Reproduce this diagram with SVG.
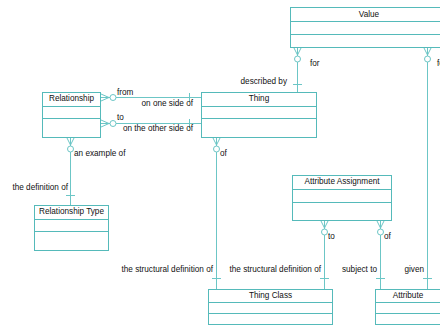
<svg xmlns="http://www.w3.org/2000/svg" width="440" height="326" viewBox="0 0 440 326">
<style>
.box{fill:#fff;stroke:#55baba;stroke-width:1}
.div{stroke:#55baba;stroke-width:1}
.t{font-family:"Liberation Sans",Arial,sans-serif;font-size:8.2px;fill:#111}
.c{text-anchor:middle}
.r{text-anchor:end}
.cn path,.cn line{fill:none;stroke:#6cc6c6;stroke-width:1}
.cn circle{fill:#fff;stroke:#6cc6c6;stroke-width:1}
</style>
<rect width="440" height="326" fill="#fff"/>
<g id="connectors" class="cn">
  <line x1="297.5" y1="47" x2="297.5" y2="92"/>
  <path d="M293.5 47 L297.5 55 L301.5 47 M297.5 47 L297.5 55"/>
  <circle cx="297.5" cy="59" r="3"/>
  <line x1="293" y1="84.5" x2="302" y2="84.5"/>
  <line x1="427.5" y1="47" x2="427.5" y2="289"/>
  <path d="M423.5 47 L427.5 55 L431.5 47 M427.5 47 L427.5 55"/>
  <circle cx="427.5" cy="59" r="3"/>
  <line x1="423" y1="278.5" x2="432" y2="278.5"/>
  <line x1="101" y1="97.5" x2="201" y2="97.5"/>
  <path d="M101 94 L109 97.5 L101 101 M101 97.5 L109 97.5"/>
  <circle cx="113" cy="97.5" r="3"/>
  <line x1="189.5" y1="93" x2="189.5" y2="102"/>
  <line x1="101" y1="123.5" x2="201" y2="123.5"/>
  <path d="M101 120 L109 123.5 L101 127 M101 123.5 L109 123.5"/>
  <circle cx="113" cy="123.5" r="3"/>
  <line x1="189.5" y1="119" x2="189.5" y2="128"/>
  <line x1="70.5" y1="137" x2="70.5" y2="205"/>
  <path d="M66.5 137 L70.5 145 L74.5 137 M70.5 137 L70.5 145"/>
  <circle cx="70.5" cy="149" r="3"/>
  <line x1="66" y1="195.5" x2="75" y2="195.5"/>
  <line x1="216.5" y1="137" x2="216.5" y2="289"/>
  <path d="M212.5 137 L216.5 145 L220.5 137 M216.5 137 L216.5 145"/>
  <circle cx="216.5" cy="149" r="3"/>
  <line x1="212" y1="278.5" x2="221" y2="278.5"/>
  <line x1="324.5" y1="220" x2="324.5" y2="289"/>
  <path d="M320.5 220 L324.5 228 L328.5 220 M324.5 220 L324.5 228"/>
  <circle cx="324.5" cy="232" r="3"/>
  <line x1="320" y1="278.5" x2="329" y2="278.5"/>
  <line x1="380.5" y1="220" x2="380.5" y2="289"/>
  <path d="M376.5 220 L380.5 228 L384.5 220 M380.5 220 L380.5 228"/>
  <circle cx="380.5" cy="232" r="3"/>
  <line x1="376" y1="278.5" x2="385" y2="278.5"/>
  <text class="t" x="310" y="66">for</text>
  <text class="t" x="437" y="66">for</text>
  <text class="t r" x="287" y="84">described by</text>
  <text class="t" x="117" y="95">from</text>
  <text class="t r" x="193" y="106">on one side of</text>
  <text class="t" x="117" y="120">to</text>
  <text class="t r" x="193" y="131">on the other side of</text>
  <text class="t" x="74" y="156">an example of</text>
  <text class="t r" x="68" y="190">the definition of</text>
  <text class="t" x="220" y="156">of</text>
  <text class="t r" x="213" y="272">the structural definition of</text>
  <text class="t r" x="321" y="272">the structural definition of</text>
  <text class="t" x="328" y="239">to</text>
  <text class="t" x="384" y="239">of</text>
  <text class="t r" x="377" y="272">subject to</text>
  <text class="t r" x="424" y="272">given</text>
</g>
<g id="value">
  <rect class="box" x="290.5" y="7.5" width="158" height="40"/>
  <line class="div" x1="290.5" y1="21.5" x2="448.5" y2="21.5"/>
  <line class="div" x1="290.5" y1="34.5" x2="448.5" y2="34.5"/>
  <text class="t c" x="369" y="17">Value</text>
</g>
<g id="thing">
  <rect class="box" x="201.5" y="92.5" width="115" height="45"/>
  <line class="div" x1="201.5" y1="106.5" x2="316.5" y2="106.5"/>
  <line class="div" x1="201.5" y1="118.5" x2="316.5" y2="118.5"/>
  <text class="t c" x="259" y="101">Thing</text>
</g>
<g id="relationship">
  <rect class="box" x="42.5" y="92.5" width="58" height="45"/>
  <line class="div" x1="42.5" y1="106.5" x2="100.5" y2="106.5"/>
  <line class="div" x1="42.5" y1="118.5" x2="100.5" y2="118.5"/>
  <text class="t c" x="71.5" y="101">Relationship</text>
</g>
<g id="relationship-type">
  <rect class="box" x="34.5" y="205.5" width="74" height="45"/>
  <line class="div" x1="34.5" y1="219.5" x2="108.5" y2="219.5"/>
  <line class="div" x1="34.5" y1="231.5" x2="108.5" y2="231.5"/>
  <text class="t c" x="71.5" y="214">Relationship Type</text>
</g>
<g id="attribute-assignment">
  <rect class="box" x="292.5" y="175.5" width="99" height="45"/>
  <line class="div" x1="292.5" y1="189.5" x2="391.5" y2="189.5"/>
  <line class="div" x1="292.5" y1="202.5" x2="391.5" y2="202.5"/>
  <text class="t c" x="342" y="184">Attribute Assignment</text>
</g>
<g id="thing-class">
  <rect class="box" x="208.5" y="289.5" width="124" height="35"/>
  <line class="div" x1="208.5" y1="302.5" x2="332.5" y2="302.5"/>
  <line class="div" x1="208.5" y1="313.5" x2="332.5" y2="313.5"/>
  <text class="t c" x="270.5" y="298">Thing Class</text>
</g>
<g id="attribute">
  <rect class="box" x="375.5" y="289.5" width="66" height="35"/>
  <line class="div" x1="375.5" y1="302.5" x2="441.5" y2="302.5"/>
  <line class="div" x1="375.5" y1="313.5" x2="441.5" y2="313.5"/>
  <text class="t c" x="408" y="298">Attribute</text>
</g>
</svg>
